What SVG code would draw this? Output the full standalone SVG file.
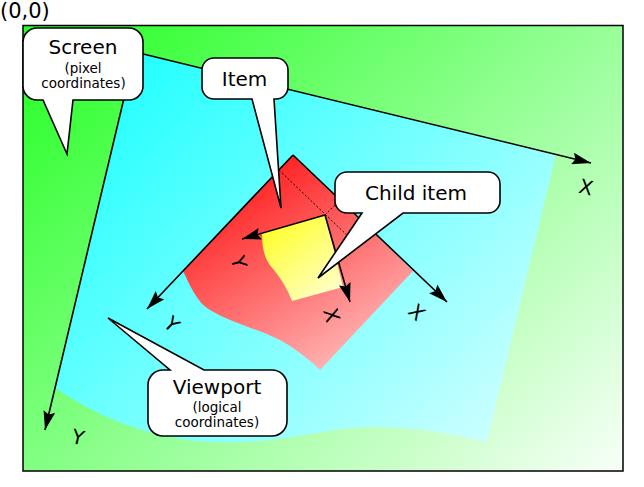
<svg xmlns="http://www.w3.org/2000/svg" width="644" height="487" viewBox="0 0 644 487">
<style>
text{font-family:"DejaVu Sans","Liberation Sans",sans-serif;fill:#000}
.big{font-size:20px;text-anchor:middle}
.small{font-size:13.5px;text-anchor:middle}
.lbl{font-size:20px;text-anchor:middle}
.axis{fill:none;stroke:#000;stroke-width:1.6;marker-end:url(#arr)}
.dot{fill:none;stroke:#000;stroke-width:0.9;stroke-dasharray:2,2}
.bubble{fill:#fff;stroke:#000;stroke-width:1.6;stroke-linejoin:miter}
</style>
<defs>
<marker id="arr" viewBox="0 0 19 12" refX="19" refY="6" markerWidth="19" markerHeight="12" markerUnits="userSpaceOnUse" orient="auto">
<path d="M0,0 L19,6 L0,12 L3,6 Z" fill="#000"/>
</marker>
<linearGradient id="gGreen" gradientUnits="userSpaceOnUse" x1="23" y1="25" x2="540" y2="580">
<stop offset="0" stop-color="#22ff22"/>
<stop offset="1" stop-color="#ffffff"/>
</linearGradient>
<linearGradient id="gCyan" gradientUnits="userSpaceOnUse" x1="135" y1="52" x2="520" y2="442">
<stop offset="0" stop-color="#22ffff"/>
<stop offset="1" stop-color="#d2ffff"/>
</linearGradient>
<linearGradient id="gRed" gradientUnits="userSpaceOnUse" x1="255" y1="180" x2="370" y2="370">
<stop offset="0" stop-color="#ff2626"/>
<stop offset="1" stop-color="#ffc2c2"/>
</linearGradient>
<linearGradient id="gYellow" gradientUnits="userSpaceOnUse" x1="268" y1="222" x2="330" y2="300">
<stop offset="0" stop-color="#ffff22"/>
<stop offset="1" stop-color="#ffffcc"/>
</linearGradient>
</defs>

<text x="0" y="18" style="font-size:21px">(0,0)</text>

<g id="screen-area">
<rect x="23" y="25.5" width="600" height="445.5" fill="url(#gGreen)" stroke="#000" stroke-width="1.5"/>
</g>

<g id="viewport-area">
<path d="M135,52 L556,154 L487,442 C460,436 430,428 380,427 C330,426 300,440 240,442 C170,445 110,425 55,388 Z" fill="url(#gCyan)"/>
</g>

<g id="item-area">
<path d="M293,155 L413,271 L320,370 C312,362 302,354 290,346 C265,330 235,325 210,310 C198,303 192,290 183,271 Z" fill="url(#gRed)"/>
</g>

<g id="child-area">
<path d="M325,215 L262,233 C262,252 266,262 274,270 C282,280 288,290 292,301 L343,287 Z" fill="url(#gYellow)"/>
</g>

<g id="connectors">
<path class="axis" d="M135,52 L591,163"/>
<path class="axis" d="M135,52 L45,430"/>
<path class="axis" d="M293,155 L447,302"/>
<path class="axis" d="M293,155 L147,309"/>
<path class="axis" d="M325,215 L350,302"/>
<path class="axis" d="M325,215 L242,239"/>
<path class="dot" d="M279,170 L352,240"/>
<path class="dot" d="M325,215 L340,200"/>
</g>

<g id="axis-labels">
<text class="lbl" transform="translate(586,187) rotate(13)" y="7.3">X</text>
<text class="lbl" transform="translate(78,437) rotate(13)" y="7.3">Y</text>
<text class="lbl" transform="translate(417,312) rotate(44)" y="7.3">X</text>
<text class="lbl" transform="translate(172,324) rotate(44)" y="7.3">Y</text>
<text class="lbl" transform="translate(332,315) rotate(74)" y="7.3">X</text>
<text class="lbl" transform="translate(239,262) rotate(74)" y="7.3">Y</text>
</g>

<g id="callout-screen">
<path class="bubble" d="M37,28 H129 A14,14 0 0 1 143,42 V86 A14,14 0 0 1 129,100 H73 L67,154 L43,100 H37 A14,14 0 0 1 23,86 V42 A14,14 0 0 1 37,28 Z"/>
<text class="big" x="83" y="54">Screen</text>
<text class="small" x="83" y="73">(pixel</text>
<text class="small" x="83.5" y="88">coordinates)</text>
</g>

<g id="callout-item">
<path class="bubble" d="M214,58 H276 A12,12 0 0 1 288,70 V87 A12,12 0 0 1 276,99 H274 L281,208 L252,99 H214 A12,12 0 0 1 202,87 V70 A12,12 0 0 1 214,58 Z"/>
<text class="big" x="244.5" y="86">Item</text>
</g>

<g id="callout-child">
<path class="bubble" d="M347,172 H488 A12,12 0 0 1 500,184 V201 A12,12 0 0 1 488,213 H403 L318,278 L362,213 H347 A12,12 0 0 1 335,201 V184 A12,12 0 0 1 347,172 Z"/>
<text class="big" x="416" y="200">Child item</text>
</g>

<g id="callout-viewport">
<path class="bubble" d="M163,370 H170 L108,318 L204,370 H272 A15,15 0 0 1 287,385 V421 A15,15 0 0 1 272,436 H163 A15,15 0 0 1 148,421 V385 A15,15 0 0 1 163,370 Z"/>
<text class="big" x="217" y="394">Viewport</text>
<text class="small" x="217" y="412">(logical</text>
<text class="small" x="217" y="427">coordinates)</text>
</g>
</svg>
